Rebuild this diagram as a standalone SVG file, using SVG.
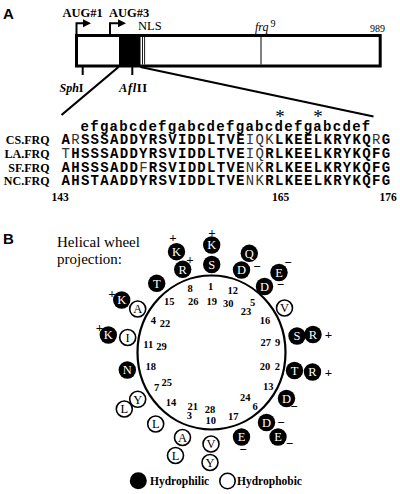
<svg xmlns="http://www.w3.org/2000/svg" width="400" height="494" viewBox="0 0 400 494">
<style>
.lbl{font-family:"Liberation Sans",Arial,sans-serif;font-weight:bold;font-size:15px}
.ser{font-family:"Liberation Serif","Times New Roman",serif}
.b{font-weight:bold}
.it{font-style:italic}
.seq{font-family:"Liberation Mono","Courier New",monospace;font-size:14px;font-weight:bold;letter-spacing:1.3px}
.lt{font-weight:normal;fill:#333}
.res{font-family:"Liberation Serif","Times New Roman",serif;font-size:12.5px;text-anchor:middle}
.bk circle{fill:#000}
.bk text{fill:#fff}
.wt circle{fill:#fff;stroke:#000;stroke-width:1.6}
.wt text{fill:#000}
.num{font-family:"Liberation Serif","Times New Roman",serif;font-size:10.5px;font-weight:bold;text-anchor:middle}
.chg{font-family:"Liberation Serif","Times New Roman",serif;font-size:13px;font-weight:bold;text-anchor:middle}
</style>
<rect width="400" height="494" fill="#fff"/>

<!-- Panel A -->
<text class="lbl" x="3" y="18.5">A</text>
<g id="gene">
  <rect x="76.5" y="35.5" width="303.7" height="30.5" fill="#fff" stroke="#000" stroke-width="3"/>
  <rect x="119" y="35.5" width="21.5" height="30.5" fill="#000"/>
  <line x1="142.5" y1="37" x2="142.5" y2="64.5" stroke="#000" stroke-width="0.9"/>
  <line x1="144.6" y1="37" x2="144.6" y2="64.5" stroke="#000" stroke-width="0.9"/>
  <line x1="261" y1="37" x2="261" y2="64.5" stroke="#000" stroke-width="1"/>
  <line x1="82.7" y1="66" x2="82.7" y2="75" stroke="#000" stroke-width="2"/>
  <line x1="132.3" y1="66" x2="132.3" y2="75" stroke="#000" stroke-width="2"/>
  <text class="ser b" x="62.5" y="16.8" font-size="12.5">AUG#1</text>
  <text class="ser b" x="109" y="16.8" font-size="12.5">AUG#3</text>
  <text class="ser" x="138" y="29.5" font-size="12.5">NLS</text>
  <text class="ser" x="255" y="31" font-size="12"><tspan class="it">frq</tspan><tspan font-size="10" dy="-4" dx="2">9</tspan></text>
  <text class="ser" x="370" y="32.3" font-size="10">989</text>
  <text class="ser b" x="59.5" y="92" font-size="12"><tspan class="it">Sph</tspan>I</text>
  <text class="ser b" x="119" y="92" font-size="12.5" letter-spacing="0.6"><tspan class="it">Afl</tspan>II</text>
</g>
<g id="connectors" stroke="#000" fill="none">
  <path d="M76.5,34 V23.3 H84" stroke-width="2"/>
  <polygon points="91,23.3 83,19.3 83,27.3" fill="#000" stroke="none"/>
  <path d="M110,34 V23.3 H118" stroke-width="2"/>
  <polygon points="126,23.3 118,19.3 118,27.3" fill="#000" stroke="none"/>
  <line x1="118.5" y1="67" x2="61.5" y2="115" stroke-width="2.2"/>
  <line x1="140.5" y1="67" x2="373.5" y2="116.5" stroke-width="2.2"/>
</g>
<g id="alignment">
  <text class="ser" x="280" y="123" font-size="19" text-anchor="middle">*</text>
  <text class="ser" x="318" y="123" font-size="19" text-anchor="middle">*</text>
  <text class="seq" x="80.5" y="130.5">efgabcdefgabcdefgabcdefgabcdef</text>
  <g class="ser b" font-size="12" text-anchor="end">
    <text x="49.5" y="144.3">CS.FRQ</text>
    <text x="49.5" y="157.7">LA.FRQ</text>
    <text x="49.5" y="171.5">SF.FRQ</text>
    <text x="49.5" y="185">NC.FRQ</text>
  </g>
  <text class="seq" x="61.5" y="144.3">A<tspan class="lt">R</tspan>SSSADDYRSVIDDLTVE<tspan class="lt">IQK</tspan>LKEELKRYKQ<tspan class="lt">R</tspan>G</text>
  <text class="seq" x="61.5" y="157.7"><tspan class="lt">T</tspan>HSSSADDYRSVIDDLTVE<tspan class="lt">IQ</tspan>RLKEELKRYKQFG</text>
  <text class="seq" x="61.5" y="171.5">AHSSSADD<tspan class="lt">F</tspan>RSVIDDLTVE<tspan class="lt">NK</tspan>RLKEELKRYKQFG</text>
  <text class="seq" x="61.5" y="185">AHSTAADDYRSVIDDLTVE<tspan class="lt">NK</tspan>RLKEELKRYKQFG</text>
  <g class="ser b" font-size="11.5" text-anchor="middle">
    <text x="60" y="200.7">143</text>
    <text x="280.5" y="200.7">165</text>
    <text x="388" y="200.7">176</text>
  </g>
</g>

<!-- Panel B -->
<text class="lbl" x="3" y="243.5">B</text>
<text class="ser" x="57" y="246.5" font-size="15">Helical wheel</text>
<text class="ser" x="57" y="264" font-size="15">projection:</text>

<g id="wheel">
  <ellipse cx="211.5" cy="352.5" rx="74" ry="77" fill="none" stroke="#000" stroke-width="2.2"/>
</g>

<g id="numbers" class="num">
  <text x="190" y="292">8</text><text x="193.3" y="304.7">26</text>
  <text x="210.7" y="290.4">1</text><text x="211.7" y="304.7">19</text>
  <text x="232.7" y="293.7">12</text><text x="228.3" y="307">30</text>
  <text x="252.7" y="306">5</text><text x="246" y="314.7">23</text>
  <text x="169.3" y="305.4">15</text>
  <text x="153.3" y="323.7">4</text><text x="165" y="327">22</text>
  <text x="148.3" y="347.7">11</text><text x="161.5" y="350.2">29</text>
  <text x="150.7" y="369.7">18</text>
  <text x="166.7" y="386.4">25</text><text x="156.7" y="391.4">7</text>
  <text x="171" y="406.4">14</text>
  <text x="192.7" y="409.7">21</text><text x="189.3" y="419.4">3</text>
  <text x="210" y="413">28</text><text x="210.7" y="424.4">10</text>
  <text x="233.3" y="420.4">17</text>
  <text x="245.3" y="400.9">24</text><text x="255" y="409.9">6</text>
  <text x="265" y="323.7">16</text>
  <text x="265.7" y="346.4">27</text><text x="277.7" y="346.4">9</text>
  <text x="265" y="369.7">20</text><text x="277.3" y="370.4">2</text>
  <text x="268.3" y="389.7">13</text>
</g>

<g class="res">
  <g id="r-K1" class="bk"><circle cx="211.7" cy="245" r="8.7"/><text x="211.7" y="249.4">K</text></g>
  <g id="r-S1" class="bk"><circle cx="211.7" cy="264.5" r="8.7"/><text x="211.7" y="268.9">S</text></g>
  <g id="r-K2" class="bk"><circle cx="176.5" cy="251.7" r="8.7"/><text x="176.5" y="256.1">K</text></g>
  <g id="r-R1" class="bk"><circle cx="182.7" cy="269.3" r="8.7"/><text x="182.7" y="273.7">R</text></g>
  <g id="r-Q" class="bk"><circle cx="249.3" cy="253.3" r="8.7"/><text x="249.3" y="257.7">Q</text></g>
  <g id="r-D1" class="bk"><circle cx="241.5" cy="270" r="8.7"/><text x="241.5" y="274.4">D</text></g>
  <g id="r-E1" class="bk"><circle cx="279" cy="272.5" r="8.7"/><text x="279" y="276.9">E</text></g>
  <g id="r-D2" class="bk"><circle cx="264.5" cy="286.5" r="8.7"/><text x="264.5" y="290.9">D</text></g>
  <g id="r-V1" class="wt"><circle cx="284.5" cy="308" r="8"/><text x="284.5" y="312.4">V</text></g>
  <g id="r-S2" class="bk"><circle cx="297" cy="336" r="8.7"/><text x="297" y="340.4">S</text></g>
  <g id="r-R2" class="bk"><circle cx="313" cy="334.5" r="8.7"/><text x="313" y="338.9">R</text></g>
  <g id="r-T1" class="bk"><circle cx="294.5" cy="370.5" r="8.7"/><text x="294.5" y="374.9">T</text></g>
  <g id="r-R3" class="bk"><circle cx="312.5" cy="372" r="8.7"/><text x="312.5" y="376.4">R</text></g>
  <g id="r-D3" class="bk"><circle cx="286.5" cy="398.5" r="8.7"/><text x="286.5" y="402.9">D</text></g>
  <g id="r-D4" class="bk"><circle cx="266.5" cy="422.5" r="8.7"/><text x="266.5" y="426.9">D</text></g>
  <g id="r-E2" class="bk"><circle cx="278" cy="437" r="8.7"/><text x="278" y="441.4">E</text></g>
  <g id="r-E3" class="bk"><circle cx="241.5" cy="437" r="8.7"/><text x="241.5" y="441.4">E</text></g>
  <g id="r-V2" class="wt"><circle cx="211" cy="444" r="8"/><text x="211" y="448.4">V</text></g>
  <g id="r-Y1" class="wt"><circle cx="210" cy="462.5" r="8"/><text x="210" y="466.9">Y</text></g>
  <g id="r-A1" class="wt"><circle cx="182.5" cy="437.5" r="8"/><text x="182.5" y="441.9">A</text></g>
  <g id="r-L1" class="wt"><circle cx="175.5" cy="455.5" r="8"/><text x="175.5" y="459.9">L</text></g>
  <g id="r-L2" class="wt"><circle cx="155.7" cy="424" r="8"/><text x="155.7" y="428.4">L</text></g>
  <g id="r-L3" class="wt"><circle cx="124.3" cy="409" r="8"/><text x="124.3" y="413.4">L</text></g>
  <g id="r-Y2" class="wt"><circle cx="137.7" cy="399.3" r="8"/><text x="137.7" y="403.7">Y</text></g>
  <g id="r-N" class="bk"><circle cx="127.3" cy="370" r="8.7"/><text x="127.3" y="374.4">N</text></g>
  <g id="r-I" class="wt"><circle cx="127.7" cy="337.5" r="8"/><text x="127.7" y="341.9">I</text></g>
  <g id="r-K3" class="bk"><circle cx="108.3" cy="335" r="8.7"/><text x="108.3" y="339.4">K</text></g>
  <g id="r-A2" class="wt"><circle cx="137.7" cy="309" r="8"/><text x="137.7" y="313.4">A</text></g>
  <g id="r-K4" class="bk"><circle cx="121.7" cy="300" r="8.7"/><text x="121.7" y="304.4">K</text></g>
  <g id="r-T2" class="bk"><circle cx="156.7" cy="283.3" r="8.7"/><text x="156.7" y="287.7">T</text></g>
</g>

<g id="charges" class="chg">
  <text x="212" y="237">+</text>
  <text x="173" y="242">+</text>
  <text x="190" y="263.5">+</text>
  <text x="112" y="297.5">+</text>
  <text x="99.5" y="331.5">+</text>
  <text x="328.5" y="339">+</text>
  <text x="328.5" y="377">+</text>
  <text x="257" y="271">−</text>
  <text x="288" y="266.5">−</text>
  <text x="280.5" y="289">−</text>
  <text x="294" y="411">−</text>
  <text x="281" y="427">−</text>
  <text x="289.5" y="448">−</text>
  <text x="243" y="454">−</text>
</g>

<g id="legend">
  <circle cx="138.3" cy="480.7" r="8.5" fill="#000"/>
  <text class="ser b" x="150" y="485" font-size="11.5">Hydrophilic</text>
  <circle cx="227.5" cy="481" r="7.7" fill="#fff" stroke="#000" stroke-width="1.6"/>
  <text class="ser b" x="237" y="485" font-size="11.5">Hydrophobic</text>
</g>
</svg>
